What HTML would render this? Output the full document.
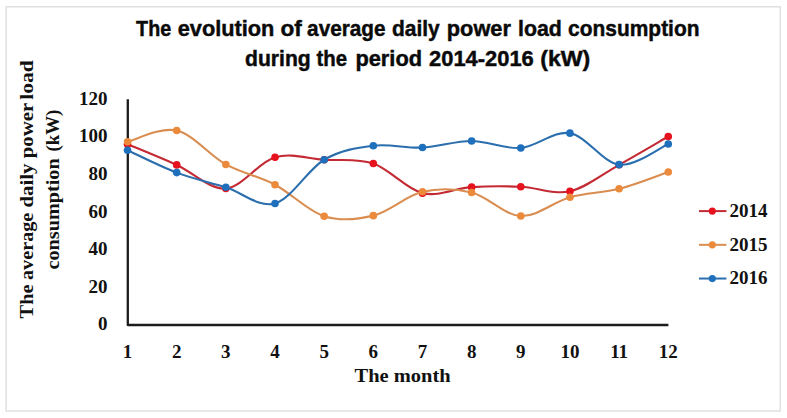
<!DOCTYPE html>
<html><head><meta charset="utf-8">
<style>
html,body{margin:0;padding:0;background:#fff;}
body{width:787px;height:418px;overflow:hidden;position:relative;}
svg{position:absolute;left:0;top:0;display:block;}
.tk{font-family:"Liberation Serif",serif;font-weight:bold;font-size:19px;fill:#111;}
.ttl{font-family:"Liberation Sans",sans-serif;font-weight:bold;font-size:21.5px;fill:#0a0a0a;stroke:#0a0a0a;stroke-width:0.45px;}
.ax{font-family:"Liberation Serif",serif;font-weight:bold;font-size:19px;fill:#111;}
</style></head><body>
<svg width="787" height="418" viewBox="0 0 787 418">
<rect x="6.1" y="6.8" width="774.2" height="404.2" fill="#fff" stroke="#e0e0e0" stroke-width="1.5"/>
<text x="136.10" y="36.20" class="ttl" textLength="35.08" lengthAdjust="spacingAndGlyphs">The</text>
<text x="177.70" y="36.20" class="ttl" textLength="96.72" lengthAdjust="spacingAndGlyphs">evolution</text>
<text x="280.40" y="36.20" class="ttl" textLength="21.33" lengthAdjust="spacingAndGlyphs">of</text>
<text x="307.10" y="36.20" class="ttl" textLength="78.43" lengthAdjust="spacingAndGlyphs">average</text>
<text x="392.00" y="36.20" class="ttl" textLength="47.74" lengthAdjust="spacingAndGlyphs">daily</text>
<text x="446.80" y="36.20" class="ttl" textLength="64.15" lengthAdjust="spacingAndGlyphs">power</text>
<text x="518.10" y="36.20" class="ttl" textLength="43.80" lengthAdjust="spacingAndGlyphs">load</text>
<text x="568.10" y="36.20" class="ttl" textLength="131.41" lengthAdjust="spacingAndGlyphs">consumption</text>
<text x="245.00" y="65.80" class="ttl" textLength="65.74" lengthAdjust="spacingAndGlyphs">during</text>
<text x="316.50" y="65.80" class="ttl" textLength="30.55" lengthAdjust="spacingAndGlyphs">the</text>
<text x="355.40" y="65.80" class="ttl" textLength="66.66" lengthAdjust="spacingAndGlyphs">period</text>
<text x="429.10" y="65.80" class="ttl" textLength="104.66" lengthAdjust="spacingAndGlyphs">2014-2016</text>
<text x="540.20" y="65.80" class="ttl" textLength="50.15" lengthAdjust="spacingAndGlyphs">(kW)</text>

<text transform="translate(32.50,318.40) rotate(-90)" class="ax" textLength="34.08" lengthAdjust="spacingAndGlyphs">The</text>
<text transform="translate(32.50,280.00) rotate(-90)" class="ax" textLength="67.35" lengthAdjust="spacingAndGlyphs">average</text>
<text transform="translate(32.50,207.50) rotate(-90)" class="ax" textLength="44.05" lengthAdjust="spacingAndGlyphs">daily</text>
<text transform="translate(32.50,158.20) rotate(-90)" class="ax" textLength="55.35" lengthAdjust="spacingAndGlyphs">power</text>
<text transform="translate(32.50,99.70) rotate(-90)" class="ax" textLength="39.48" lengthAdjust="spacingAndGlyphs">load</text>
<text transform="translate(58.60,269.50) rotate(-90)" class="ax" textLength="111.20" lengthAdjust="spacingAndGlyphs">consumption</text>
<text transform="translate(58.60,151.40) rotate(-90)" class="ax" textLength="41.66" lengthAdjust="spacingAndGlyphs">(kW)</text>

<text x="354.5" y="382.1" class="ax" textLength="96.2" lengthAdjust="spacingAndGlyphs">The month</text>
<text x="107.4" y="330.30" text-anchor="end" class="tk">0</text>
<text x="107.4" y="292.73" text-anchor="end" class="tk">20</text>
<text x="107.4" y="255.17" text-anchor="end" class="tk">40</text>
<text x="107.4" y="217.60" text-anchor="end" class="tk">60</text>
<text x="107.4" y="180.04" text-anchor="end" class="tk">80</text>
<text x="107.4" y="142.47" text-anchor="end" class="tk">100</text>
<text x="107.4" y="104.90" text-anchor="end" class="tk">120</text>

<text x="127.55" y="358.2" text-anchor="middle" class="tk">1</text>
<text x="176.71" y="358.2" text-anchor="middle" class="tk">2</text>
<text x="225.86" y="358.2" text-anchor="middle" class="tk">3</text>
<text x="275.02" y="358.2" text-anchor="middle" class="tk">4</text>
<text x="324.17" y="358.2" text-anchor="middle" class="tk">5</text>
<text x="373.33" y="358.2" text-anchor="middle" class="tk">6</text>
<text x="422.49" y="358.2" text-anchor="middle" class="tk">7</text>
<text x="471.64" y="358.2" text-anchor="middle" class="tk">8</text>
<text x="520.80" y="358.2" text-anchor="middle" class="tk">9</text>
<text x="569.95" y="358.2" text-anchor="middle" class="tk">10</text>
<text x="619.11" y="358.2" text-anchor="middle" class="tk">11</text>
<text x="668.27" y="358.2" text-anchor="middle" class="tk">12</text>

<polyline points="127.8,99.3 127.8,325 668.4,325" fill="none" stroke="#1c1c1c" stroke-width="2.3" stroke-linejoin="round"/>
<path d="M127.55,144.20 C135.74,147.65 160.32,157.54 176.71,164.92 C193.09,172.29 209.48,189.72 225.86,188.45 C242.25,187.18 258.63,162.11 275.02,157.32 C291.40,152.54 307.79,158.73 324.17,159.76 C340.56,160.79 356.94,157.95 373.33,163.51 C389.72,169.07 406.10,189.20 422.49,193.14 C438.87,197.07 455.26,188.20 471.64,187.14 C488.03,186.07 504.41,186.07 520.80,186.76 C537.18,187.45 553.57,194.92 569.95,191.26 C586.34,187.61 602.72,173.95 619.11,164.82 C635.50,155.70 660.07,141.23 668.27,136.51" fill="none" stroke="#c42a33" stroke-width="2.1" stroke-linejoin="round"/>
<circle cx="127.55" cy="144.20" r="3.8" fill="#e6121d"/>
<circle cx="176.71" cy="164.92" r="3.8" fill="#e6121d"/>
<circle cx="225.86" cy="188.45" r="3.8" fill="#e6121d"/>
<circle cx="275.02" cy="157.32" r="3.8" fill="#e6121d"/>
<circle cx="324.17" cy="159.76" r="3.8" fill="#e6121d"/>
<circle cx="373.33" cy="163.51" r="3.8" fill="#e6121d"/>
<circle cx="422.49" cy="193.14" r="3.8" fill="#e6121d"/>
<circle cx="471.64" cy="187.14" r="3.8" fill="#e6121d"/>
<circle cx="520.80" cy="186.76" r="3.8" fill="#e6121d"/>
<circle cx="569.95" cy="191.26" r="3.8" fill="#e6121d"/>
<circle cx="619.11" cy="164.82" r="3.8" fill="#e6121d"/>
<circle cx="668.27" cy="136.51" r="3.8" fill="#e6121d"/>
<path d="M127.55,141.76 C135.74,139.89 160.32,126.73 176.71,130.51 C193.09,134.29 209.48,155.42 225.86,164.45 C242.25,173.48 258.63,176.07 275.02,184.70 C291.40,193.32 307.79,211.04 324.17,216.20 C340.56,221.36 356.94,219.70 373.33,215.64 C389.72,211.57 406.10,195.67 422.49,191.82 C438.87,187.98 455.26,188.54 471.64,192.57 C488.03,196.61 504.41,215.23 520.80,216.01 C537.18,216.79 553.57,201.79 569.95,197.26 C586.34,192.73 602.72,193.04 619.11,188.82 C635.50,184.61 660.07,174.76 668.27,171.95" fill="none" stroke="#da8d50" stroke-width="2.1" stroke-linejoin="round"/>
<circle cx="127.55" cy="141.76" r="3.8" fill="#ec8a3c"/>
<circle cx="176.71" cy="130.51" r="3.8" fill="#ec8a3c"/>
<circle cx="225.86" cy="164.45" r="3.8" fill="#ec8a3c"/>
<circle cx="275.02" cy="184.70" r="3.8" fill="#ec8a3c"/>
<circle cx="324.17" cy="216.20" r="3.8" fill="#ec8a3c"/>
<circle cx="373.33" cy="215.64" r="3.8" fill="#ec8a3c"/>
<circle cx="422.49" cy="191.82" r="3.8" fill="#ec8a3c"/>
<circle cx="471.64" cy="192.57" r="3.8" fill="#ec8a3c"/>
<circle cx="520.80" cy="216.01" r="3.8" fill="#ec8a3c"/>
<circle cx="569.95" cy="197.26" r="3.8" fill="#ec8a3c"/>
<circle cx="619.11" cy="188.82" r="3.8" fill="#ec8a3c"/>
<circle cx="668.27" cy="171.95" r="3.8" fill="#ec8a3c"/>
<path d="M127.55,150.20 C135.74,153.93 160.32,166.42 176.71,172.61 C193.09,178.79 209.48,182.18 225.86,187.32 C242.25,192.47 258.63,208.04 275.02,203.45 C291.40,198.86 307.79,169.39 324.17,159.76 C340.56,150.14 356.94,147.73 373.33,145.70 C389.72,143.67 406.10,148.36 422.49,147.57 C438.87,146.79 455.26,140.95 471.64,141.01 C488.03,141.07 504.41,149.26 520.80,147.95 C537.18,146.64 553.57,130.36 569.95,133.14 C586.34,135.92 602.72,162.82 619.11,164.64 C635.50,166.45 660.07,147.45 668.27,144.01" fill="none" stroke="#2a6eae" stroke-width="2.1" stroke-linejoin="round"/>
<circle cx="127.55" cy="150.20" r="3.8" fill="#1f70bc"/>
<circle cx="176.71" cy="172.61" r="3.8" fill="#1f70bc"/>
<circle cx="225.86" cy="187.32" r="3.8" fill="#1f70bc"/>
<circle cx="275.02" cy="203.45" r="3.8" fill="#1f70bc"/>
<circle cx="324.17" cy="159.76" r="3.8" fill="#1f70bc"/>
<circle cx="373.33" cy="145.70" r="3.8" fill="#1f70bc"/>
<circle cx="422.49" cy="147.57" r="3.8" fill="#1f70bc"/>
<circle cx="471.64" cy="141.01" r="3.8" fill="#1f70bc"/>
<circle cx="520.80" cy="147.95" r="3.8" fill="#1f70bc"/>
<circle cx="569.95" cy="133.14" r="3.8" fill="#1f70bc"/>
<circle cx="619.11" cy="164.64" r="3.8" fill="#1f70bc"/>
<circle cx="668.27" cy="144.01" r="3.8" fill="#1f70bc"/>

<line x1="699" y1="211.10" x2="726.4" y2="211.10" stroke="#c42a33" stroke-width="2.0"/>
<circle cx="712.3" cy="211.10" r="3.6" fill="#e6121d"/>
<text x="729.5" y="216.80" class="tk">2014</text>
<line x1="699" y1="244.82" x2="726.4" y2="244.82" stroke="#da8d50" stroke-width="2.0"/>
<circle cx="712.3" cy="244.82" r="3.6" fill="#ec8a3c"/>
<text x="729.5" y="250.52" class="tk">2015</text>
<line x1="699" y1="278.54" x2="726.4" y2="278.54" stroke="#2a6eae" stroke-width="2.0"/>
<circle cx="712.3" cy="278.54" r="3.6" fill="#1f70bc"/>
<text x="729.5" y="284.24" class="tk">2016</text>

</svg>
</body></html>
